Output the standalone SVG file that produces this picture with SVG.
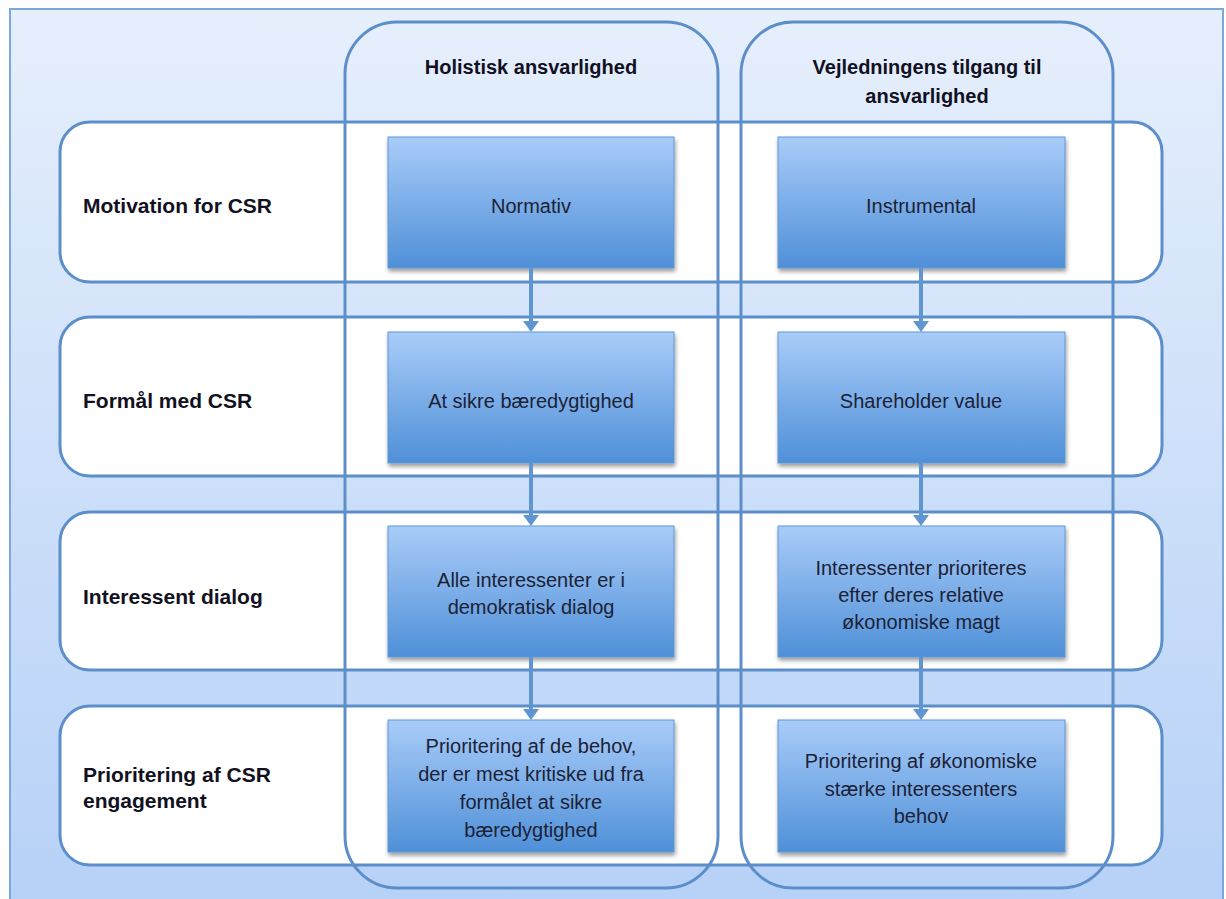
<svg xmlns="http://www.w3.org/2000/svg" width="1226" height="899" viewBox="0 0 1226 899">
<defs>
  <linearGradient id="bg" x1="0" y1="0" x2="0" y2="1">
    <stop offset="0" stop-color="#e6effc"/>
    <stop offset="1" stop-color="#b6d1f7"/>
  </linearGradient>
  <linearGradient id="boxg" x1="0" y1="0" x2="0" y2="1">
    <stop offset="0" stop-color="#a9ccf9"/>
    <stop offset="1" stop-color="#4f90d8"/>
  </linearGradient>
  <filter id="sh" x="-10%" y="-10%" width="120%" height="130%">
    <feGaussianBlur in="SourceAlpha" stdDeviation="2"/>
    <feOffset dx="1" dy="3" result="o"/>
    <feComponentTransfer><feFuncA type="linear" slope="0.4"/></feComponentTransfer>
    <feMerge><feMergeNode/><feMergeNode in="SourceGraphic"/></feMerge>
  </filter>
  <path id="head" d="M-8,-11 L8,-11 L0,0 Z" fill="#5f95d0"/>
</defs>
<style>
  .row { fill: #ffffff; stroke: none; }
  .rowline { fill: none; stroke: #5c8fca; stroke-width: 3; }
  .col { fill: none; stroke: #5c8fca; stroke-width: 3; }
  .box { fill: url(#boxg); stroke: #5e97d6; stroke-width: 1; filter: url(#sh); }
  .lbl { font-family: "Liberation Sans", Arial, sans-serif; font-weight: bold; font-size: 21px; fill: #111122; }
  .hdr { font-family: "Liberation Sans", Arial, sans-serif; font-weight: bold; font-size: 20px; fill: #111122; text-anchor: middle; }
  .txt { font-family: "Liberation Sans", Arial, sans-serif; font-size: 20px; fill: #1c2236; text-anchor: middle; }
  .arr { stroke: #5f95d0; stroke-width: 4; fill: none; }
</style>

<rect x="10" y="9" width="1213" height="900" fill="url(#bg)" stroke="#7ba7da" stroke-width="2"/>

<!-- row backgrounds -->
<g id="rows-fill">
  <rect class="row" x="60" y="122" width="1102" height="160" rx="30"/>
  <rect class="row" x="60" y="317" width="1102" height="159" rx="30"/>
  <rect class="row" x="60" y="512" width="1102" height="158" rx="30"/>
  <rect class="row" x="60" y="706" width="1102" height="159" rx="30"/>
</g>

<g id="row1">
  <rect class="rowline" x="60" y="122" width="1102" height="160" rx="30"/>
  <text class="lbl" x="83" y="213">Motivation for CSR</text>
</g>
<g id="row2">
  <rect class="rowline" x="60" y="317" width="1102" height="159" rx="30"/>
  <text class="lbl" x="83" y="408">Formål med CSR</text>
</g>
<g id="row3">
  <rect class="rowline" x="60" y="512" width="1102" height="158" rx="30"/>
  <text class="lbl" x="83" y="604">Interessent dialog</text>
</g>
<g id="row4">
  <rect class="rowline" x="60" y="706" width="1102" height="159" rx="30"/>
  <text class="lbl" x="83" y="782">Prioritering af CSR</text>
  <text class="lbl" x="83" y="808">engagement</text>
</g>

<g id="col1">
  <rect class="col" x="345" y="22" width="373" height="866" rx="52"/>
  <text class="hdr" x="531" y="74">Holistisk ansvarlighed</text>
</g>
<g id="col2">
  <rect class="col" x="741" y="22" width="372" height="866" rx="52"/>
  <text class="hdr" x="927" y="74">Vejledningens tilgang til</text>
  <text class="hdr" x="927" y="103">ansvarlighed</text>
</g>

<g id="n-normativ">
  <rect class="box" x="388" y="137" width="286" height="131"/>
  <text class="txt" x="531" y="213">Normativ</text>
</g>
<g id="n-instrumental">
  <rect class="box" x="778" y="137" width="287" height="131"/>
  <text class="txt" x="921" y="213">Instrumental</text>
</g>
<g id="n-baeredygtighed">
  <rect class="box" x="388" y="332" width="286" height="131"/>
  <text class="txt" x="531" y="408">At sikre bæredygtighed</text>
</g>
<g id="n-shareholder">
  <rect class="box" x="778" y="332" width="287" height="131"/>
  <text class="txt" x="921" y="408">Shareholder value</text>
</g>
<g id="n-alle">
  <rect class="box" x="388" y="526" width="286" height="131"/>
  <text class="txt" x="531" y="587">Alle interessenter er i</text>
  <text class="txt" x="531" y="614">demokratisk dialog</text>
</g>
<g id="n-prioriteres">
  <rect class="box" x="778" y="526" width="287" height="131"/>
  <text class="txt" x="921" y="575">Interessenter prioriteres</text>
  <text class="txt" x="921" y="602">efter deres relative</text>
  <text class="txt" x="921" y="629">økonomiske magt</text>
</g>
<g id="n-behov-kritiske">
  <rect class="box" x="388" y="720" width="286" height="132"/>
  <text class="txt" x="531" y="753">Prioritering af de behov,</text>
  <text class="txt" x="531" y="781">der er mest kritiske ud fra</text>
  <text class="txt" x="531" y="809">formålet at sikre</text>
  <text class="txt" x="531" y="837">bæredygtighed</text>
</g>
<g id="n-behov-oekonomiske">
  <rect class="box" x="778" y="720" width="287" height="132"/>
  <text class="txt" x="921" y="768">Prioritering af økonomiske</text>
  <text class="txt" x="921" y="796">stærke interessenters</text>
  <text class="txt" x="921" y="823">behov</text>
</g>

<g id="connectors">
  <line class="arr" x1="531" y1="268" x2="531" y2="322"/>
  <use href="#head" x="531" y="332"/>
  <line class="arr" x1="531" y1="463" x2="531" y2="516"/>
  <use href="#head" x="531" y="526"/>
  <line class="arr" x1="531" y1="657" x2="531" y2="710"/>
  <use href="#head" x="531" y="720"/>
  <line class="arr" x1="921" y1="268" x2="921" y2="322"/>
  <use href="#head" x="921" y="332"/>
  <line class="arr" x1="921" y1="463" x2="921" y2="516"/>
  <use href="#head" x="921" y="526"/>
  <line class="arr" x1="921" y1="657" x2="921" y2="710"/>
  <use href="#head" x="921" y="720"/>
</g>
</svg>
